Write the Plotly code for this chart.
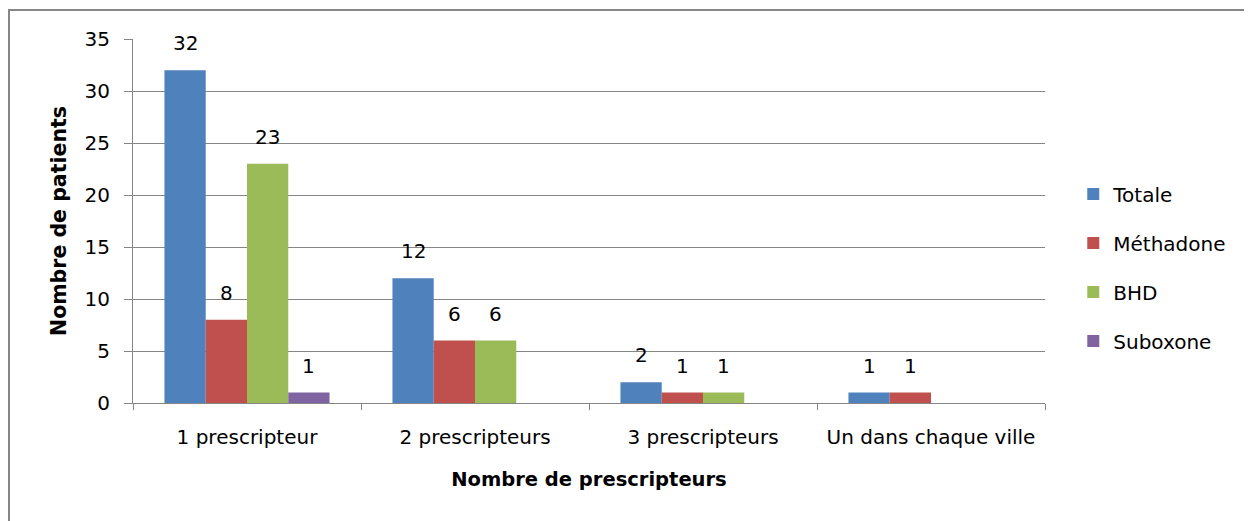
import plotly.graph_objects as go

categories = ["1 prescripteur", "2 prescripteurs", "3 prescripteurs", "Un dans chaque ville"]
totale = [32, 12, 2, 1]
methadone = [8, 6, 1, 1]
bhd = [23, 6, 1, None]
suboxone = [1, None, None, None]

series = [
    ("Totale", totale, "#4f81bd"),
    ("Méthadone", methadone, "#c0504d"),
    ("BHD", bhd, "#9bbb59"),
    ("Suboxone", suboxone, "#8064a2"),
]

FONT = "'DejaVu Sans', Verdana, sans-serif"
W, H = 1244, 513          # page has an 8px body margin
L, R, T, B = 125, 207, 31, 118
PW, PH = W - L - R, H - T - B
BAR_PX = PW / 4 * (1 - 0.276) / 4

fig = go.Figure()
annotations = []
for i, (name, vals, col) in enumerate(series):
    fig.add_trace(go.Bar(
        name=name,
        x=categories,
        y=vals,
        marker=dict(color=col, line=dict(width=0)),
        legendgroup=f"g{i}",
    ))
    # value labels, floated above each bar like the original
    for cat, v in zip(categories, vals):
        if v is None:
            continue
        annotations.append(dict(
            x=cat, y=v, text=str(v), showarrow=False,
            xshift=(i - 1.5) * BAR_PX, yshift=27, yanchor="middle",
            font=dict(size=20, color="#000000", family=FONT),
        ))

fig.update_layout(
    width=W, height=H,
    paper_bgcolor="white", plot_bgcolor="white",
    barmode="group", bargap=0.276, bargroupgap=0,
    font=dict(family=FONT, size=20, color="#000000"),
    margin=dict(l=L, r=R, t=T, b=B),
    xaxis=dict(
        title=dict(text="<b>Nombre de prescripteurs</b>", font=dict(size=19.5), standoff=24),
        showline=True, linecolor="#868686", linewidth=1,
        ticks="outside", tickson="boundaries", ticklen=6, tickcolor="#868686",
        showgrid=False, ticklabelstandoff=16,
    ),
    yaxis=dict(
        title=dict(text="<b>Nombre de patients</b>", font=dict(size=20.5), standoff=12),
        range=[0, 35], dtick=5,
        showline=True, linecolor="#868686", linewidth=1,
        ticks="outside", ticklen=8, tickcolor="#868686",
        gridcolor="#868686", gridwidth=1, zeroline=False,
        ticklabelstandoff=10,
    ),
    legend=dict(
        x=1.031, y=0.372, xanchor="left", yanchor="middle",
        font=dict(size=20), tracegroupgap=20, itemwidth=30,
        bgcolor="rgba(0,0,0,0)",
    ),
    annotations=annotations,
    shapes=[dict(
        type="rect", xref="paper", yref="paper",
        x0=-(L - 1) / PW, x1=1 + (R + 30) / PW,
        y0=-(B + 30) / PH, y1=1 + (T - 2) / PH,
        line=dict(color="#868686", width=2), fillcolor="rgba(0,0,0,0)",
        layer="below",
    )],
)

fig.write_html("out.html")
